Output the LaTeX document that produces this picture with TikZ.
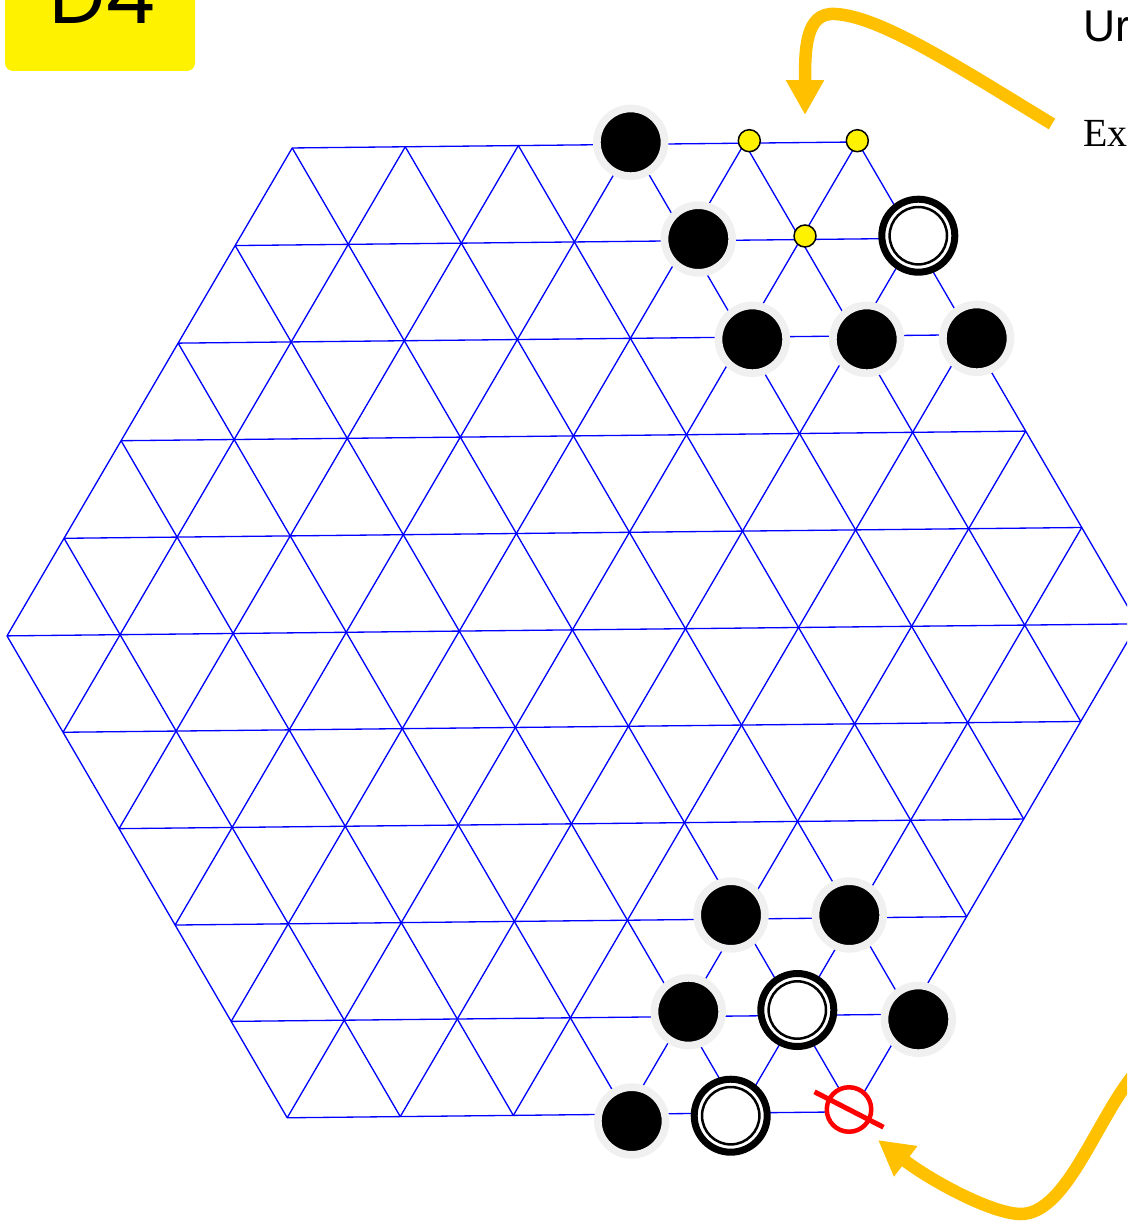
\documentclass[tikz,border=0pt]{standalone}
\usepackage{fontspec}
\setmainfont{Liberation Serif}
\setsansfont{Liberation Sans}
\newfontfamily\tagfont{Poppins}
\usetikzlibrary{arrows.meta}
\definecolor{boardblue}{RGB}{0,0,255}
\definecolor{halo}{RGB}{240,240,240}
\definecolor{hint}{RGB}{255,192,0}
\tikzset{
  gridline/.style={boardblue,line width=0.75pt},
  blackstone/.style={circle,inner sep=0pt,minimum size=1.354cm,fill=black,draw=halo,line width=0.154cm},
  whitestone/.style={circle,inner sep=0pt,minimum size=1.46cm,fill=white,draw=black,line width=0.14cm,
    path picture={\draw[line width=0.05cm] (path picture bounding box.center) circle[radius=0.574cm];}},
  target/.style={circle,inner sep=0pt,minimum size=0.44cm,fill=yellow,draw=black,line width=0.03cm},
  blocked/.style={circle,inner sep=0pt,minimum size=0.89cm,fill=white,draw=red,line width=0.09cm},
  hintarrow/.style={hint,line width=0.25cm,-{Triangle[length=0.7cm,width=0.72cm]}}
}
\begin{document}
\begin{tikzpicture}[x=0.02cm,y=-0.02cm]
\useasboundingbox (0,0) rectangle (1127,1226);
\clip (0,0) rectangle (1127,1226);
\fill[yellow,rounded corners=0.16cm] (5,-60) rectangle (195,71);
\node[anchor=base,inner sep=0pt,font=\tagfont\fontsize{45}{45}\selectfont] (tag) at (102,23.3) {D4};
\begin{scope}[shift={(11.45cm,-12.6cm)},x={(2.262cm,0.024cm)},y={(1.141cm,1.952cm)}]
\foreach \c in {-5,...,5}{
  \pgfmathsetmacro{\lo}{max(-5,-5-\c)}
  \pgfmathsetmacro{\hi}{min(5,5-\c)}
  \pgfmathsetmacro{\wlo}{max(-5,\c-5)}
  \pgfmathsetmacro{\whi}{min(5,\c+5)}
  \draw[gridline] (\lo,\c) -- (\hi,\c);
  \draw[gridline] (\c,\lo) -- (\c,\hi);
  \draw[gridline] (\wlo,{\c-(\wlo)}) -- (\whi,{\c-(\whi)});
}
\end{scope}
\node[blackstone] (b1) at (630.7,142.3) {};
\node[target] (y1) at (749.3,140.7) {};
\node[target] (y2) at (857.3,140.7) {};
\node[blackstone] (b2) at (698.3,239) {};
\node[target] (y3) at (805,236) {};
\node[whitestone] (w1) at (918.3,235.7) {};
\node[blackstone] (b3) at (752.3,339.3) {};
\node[blackstone] (b4) at (866.7,339.3) {};
\node[blackstone] (b5) at (976.7,338.3) {};
\node[blackstone] (b6) at (731,915) {};
\node[blackstone] (b7) at (849.3,915) {};
\node[blackstone] (b8) at (688.3,1011.7) {};
\node[whitestone] (w2) at (797.3,1010) {};
\node[blackstone] (b9) at (918.3,1019.3) {};
\node[blackstone] (b10) at (631.7,1121) {};
\node[whitestone] (w3) at (730.7,1115.7) {};
\node[blocked] (x1) at (849,1109.5) {};
\draw[red,line width=0.1cm] (x1.center) ++(-34.5,-17.7) -- ++(69,35.4);
\node[anchor=base west,inner sep=0pt,font=\sffamily\fontsize{25.3}{25.3}\selectfont] (hint1) at (1083,42) {Ur};
\node[anchor=base west,inner sep=0pt,font=\fontsize{22.7}{22.7}\selectfont] (hint2) at (1083,147) {Ex};
\coordinate (from1) at (1052,124);
\coordinate (to1) at (805,115);
\coordinate (from2) at (1145,1062);
\coordinate (to2) at (878,1140);
\draw[hintarrow] (from1) .. controls (960,68) and (880,16) .. (835,14) .. controls (805,12) and (805,50) .. (to1);
\draw[hintarrow] (from2) .. controls (1100,1105) and (1070,1215) .. (1020,1214) .. controls (990,1213) and (930,1180) .. (to2);
\end{tikzpicture}
\end{document}
